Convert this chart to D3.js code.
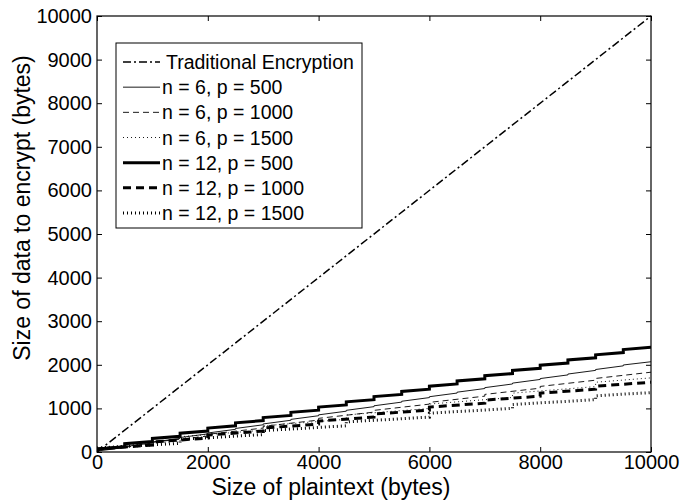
<!DOCTYPE html>
<html>
<head>
<meta charset="utf-8">
<script src="https://cdn.jsdelivr.net/npm/d3@7/dist/d3.min.js"></script>
<style>
  html, body { margin: 0; padding: 0; background: #fff; }
  svg { display: block; font-family: "Liberation Sans", Arial, Helvetica, sans-serif; }
</style>
</head>
<body>
<svg id="chart" width="680" height="501"></svg>
<script>
// ---- data ----
const xTicks = [0, 2000, 4000, 6000, 8000, 10000];
const yTicks = [0, 1000, 2000, 3000, 4000, 5000, 6000, 7000, 8000, 9000, 10000];

const tradX = [0, 10000];
const tradY = [0, 10000];

const steps500 = [0, 500, 1000, 1500, 2000, 2500, 3000, 3500, 4000, 4500, 5000, 5500, 6000, 6500, 7000, 7500, 8000, 8500, 9000, 9500, 10000];
const steps1000 = [0, 1000, 2000, 3000, 4000, 5000, 6000, 7000, 8000, 9000, 10000];
const steps1500 = [0, 1500, 3000, 4500, 6000, 7500, 9000, 10000];

// value just before each step (lo) and just after (hi)
const n6p500Lo  = [0, 104, 208, 312, 416, 520, 624, 728, 832, 936, 1040, 1144, 1248, 1352, 1456, 1560, 1664, 1768, 1872, 1976, 2070];
const n6p500Hi  = [20, 124, 228, 332, 436, 540, 644, 748, 852, 956, 1060, 1164, 1268, 1372, 1476, 1580, 1684, 1788, 1892, 1996, 2070];
const n6p1000Lo = [0, 183, 366, 549, 732, 915, 1098, 1281, 1464, 1647, 1830];
const n6p1000Hi = [40, 223, 406, 589, 772, 955, 1138, 1321, 1504, 1687, 1830];
const n6p1500Lo = [0, 250, 500, 750, 1000, 1250, 1500, 1700];
const n6p1500Hi = [100, 350, 600, 850, 1100, 1350, 1600, 1700];
const n12p500Lo = [0, 120, 240, 360, 480, 600, 720, 840, 960, 1080, 1200, 1320, 1440, 1560, 1680, 1800, 1920, 2040, 2160, 2280, 2400];
const n12p500Hi = [70, 190, 310, 430, 550, 670, 790, 910, 1030, 1150, 1270, 1390, 1510, 1630, 1750, 1870, 1990, 2110, 2230, 2350, 2400];
const n12p1000Lo = [0, 160, 320, 480, 640, 800, 960, 1120, 1280, 1440, 1600];
const n12p1000Hi = [70, 230, 390, 550, 710, 870, 1030, 1190, 1350, 1510, 1600];
const n12p1500Lo = [0, 200, 400, 600, 800, 1000, 1200, 1363];
const n12p1500Hi = [90, 290, 490, 690, 890, 1090, 1290, 1363];

const seriesNames = ["Traditional Encryption", "n = 6, p = 500", "n = 6, p = 1000", "n = 6, p = 1500",
                     "n = 12, p = 500", "n = 12, p = 1000", "n = 12, p = 1500"];

// ---- build ----
function stairs(xs, lo, hi) {
  const pts = [];
  xs.forEach((x, i) => { pts.push([x, lo[i]]); if (hi[i] !== lo[i]) pts.push([x, hi[i]]); });
  return pts;
}
const series = [
  { name: seriesNames[0], pts: tradX.map((x, i) => [x, tradY[i]]), w: 1.5, dash: "8,3,2,3" },
  { name: seriesNames[1], pts: stairs(steps500, n6p500Lo, n6p500Hi), w: 0.9, dash: null },
  { name: seriesNames[2], pts: stairs(steps1000, n6p1000Lo, n6p1000Hi), w: 0.9, dash: "6,4" },
  { name: seriesNames[3], pts: stairs(steps1500, n6p1500Lo, n6p1500Hi), w: 0.9, dash: "1,3" },
  { name: seriesNames[4], pts: stairs(steps500, n12p500Lo, n12p500Hi), w: 3, dash: null },
  { name: seriesNames[5], pts: stairs(steps1000, n12p1000Lo, n12p1000Hi), w: 3, dash: "8,5" },
  { name: seriesNames[6], pts: stairs(steps1500, n12p1500Lo, n12p1500Hi), w: 3, dash: "1,3" }
];

const L = 97, R = 651, T = 16, B = 452;
const svg = d3.select("#chart");
const x = d3.scaleLinear().domain([0, 10000]).range([L, R]);
const y = d3.scaleLinear().domain([0, 10000]).range([B, T]);

svg.append("clipPath").attr("id", "clip")
  .append("rect").attr("x", L).attr("y", T - 2).attr("width", R - L).attr("height", B - T + 2);

const line = d3.line().x(d => x(d[0])).y(d => y(d[1]));
const g = svg.append("g").attr("clip-path", "url(#clip)");
series.forEach(s => {
  g.append("path").attr("d", line(s.pts)).attr("fill", "none").attr("stroke", "#000")
    .attr("stroke-width", s.w).attr("stroke-dasharray", s.dash);
});

// axes
const fs = 20;
const axB = svg.append("g").attr("transform", `translate(0,${B})`)
  .call(d3.axisBottom(x).tickValues(xTicks).tickSize(-5).tickPadding(7).tickFormat(d3.format("d")));
const axT = svg.append("g").attr("transform", `translate(0,${T})`)
  .call(d3.axisTop(x).tickValues(xTicks).tickSize(-5).tickFormat(""));
const axL = svg.append("g").attr("transform", `translate(${L},0)`)
  .call(d3.axisLeft(y).tickValues(yTicks).tickSize(-5).tickPadding(5).tickFormat(d3.format("d")));
const axR = svg.append("g").attr("transform", `translate(${R},0)`)
  .call(d3.axisRight(y).tickValues(yTicks).tickSize(-5).tickFormat(""));
[axB, axT, axL, axR].forEach(a => {
  a.select(".domain").remove();
  a.selectAll("line").attr("stroke", "#000").attr("stroke-width", 1);
  a.selectAll("text").attr("font-size", fs).attr("fill", "#000").attr("font-family", "Liberation Sans, Arial, sans-serif");
});
axB.selectAll("text").attr("dy", "0.5em");
svg.append("rect").attr("x", L).attr("y", T).attr("width", R - L).attr("height", B - T)
  .attr("fill", "none").attr("stroke", "#000").attr("stroke-width", 1.2);

// axis titles
svg.append("text").attr("x", 331).attr("y", 495).attr("text-anchor", "middle")
  .attr("font-size", 23).text("Size of plaintext (bytes)");
svg.append("text").attr("transform", `translate(30,208) rotate(-90)`).attr("text-anchor", "middle")
  .attr("font-size", 23).text("Size of data to encrypt (bytes)");

// legend
const lg = svg.append("g");
lg.append("rect").attr("x", 116).attr("y", 43).attr("width", 246).attr("height", 185)
  .attr("fill", "#fff").attr("stroke", "#000").attr("stroke-width", 1);
const rowY = d3.scaleLinear().domain([0, 6]).range([62, 213]);
series.forEach((s, i) => {
  const yy = rowY(i);
  lg.append("line").attr("x1", 123).attr("x2", 160).attr("y1", yy).attr("y2", yy)
    .attr("stroke", "#000").attr("stroke-width", s.w).attr("stroke-dasharray", s.dash);
  lg.append("text").attr("x", i === 0 ? 166 : 162).attr("y", yy).attr("dy", "0.36em")
    .attr("font-size", 19.5).text(s.name);
});
</script>
</body>
</html>
